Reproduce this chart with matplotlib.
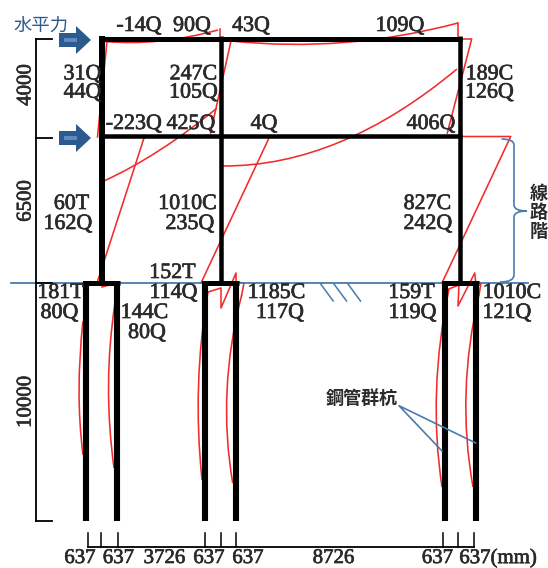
import matplotlib
matplotlib.use('Agg')
import matplotlib.pyplot as plt
import matplotlib.patheffects as pe
from matplotlib.path import Path
from matplotlib.patches import PathPatch, Polygon

SERIF = 'Liberation Serif'
JP = 'Noto Sans CJK JP'

BLUE = '#4a7aae'
RED = '#f22c2c'
INK = '#2b2b2b'

# frame, read in picture pixels
column_x = [101.5, 220.5, 460]
column_w = [6, 4.5, 4.5]
beam_y = [38.5, 136]
beam_w = [5, 4.5]
ground_y = 283
pile_bottom = 521
pile_pairs = [(86, 117), (205, 236), (445, 476)]

# dimension lines
level_y = [38.5, 137.5, 283, 521]
level_labels = ['4000', '6500', '10000']
level_label_y = [85, 201, 402]
span_ticks = [88, 101, 118, 205, 221, 236, 443, 458, 474]
span_labels = ['637', '637', '3726', '637', '637', '8726', '637', '637(mm)']
span_label_x = [80, 118.5, 164.5, 209, 248, 333.5, 437.5, 498]

# member force labels: text, x centre, y centre
force_labels = [
    ('-14Q', 139, 25), ('90Q', 192, 25), ('43Q', 251, 25), ('109Q', 400, 25),
    ('-223Q', 134, 123), ('425Q', 191, 123), ('4Q', 264, 123), ('406Q', 431, 123),
    ('60T', 71.5, 203), ('162Q', 68, 223), ('1010C', 187.5, 203), ('235Q', 190, 223),
    ('827C', 427.5, 203), ('242Q', 428, 223),
    ('152T', 172.5, 272), ('114Q', 173.5, 292),
    ('181T', 60.5, 292), ('80Q', 59.5, 312), ('144C', 144.5, 312), ('80Q', 147, 332),
    ('1185C', 276.5, 292), ('117Q', 280, 312),
    ('159T', 411.5, 292), ('119Q', 412.5, 312), ('1010C', 512, 292), ('121Q', 507, 312),
]
# upper storey pairs sit so tight they are set as one two-line text
stacked_labels = [('31Q\n44Q', 82.5, 82.5), ('247C\n105Q', 193.5, 82.5), ('189C\n126Q', 489.5, 82.5)]

# moment diagram, straight runs
moment_lines = [
    [(107, 41), (97.5, 137)],
    [(220.3, 29), (220.3, 36)],
    [(222.7, 41), (231, 41), (210.5, 133)],
    [(458, 23), (458, 36)],
    [(461, 39), (471.7, 39), (447.3, 133)],
    [(144, 138), (97, 283)],
    [(102, 287), (113, 284)],
    [(269, 138), (201, 283)],
    [(462, 136.5), (510.7, 136.5), (442, 283)],
    [(208, 292), (221, 288), (221, 308), (236, 273), (236, 282), (244, 283), (241.7, 295)],
    [(448.7, 289), (459, 285), (458, 306), (474.7, 273), (475.7, 282), (481, 283), (479, 295)],
]
# moment diagram, curved runs: start, a point half way, end
moment_curves = [
    [(105, 41.5), (160, 41), (218, 30)],
    [(231, 41), (345, 42.5), (458, 23)],
    [(104, 181), (160, 150), (217, 108)],
    [(223, 166), (340, 142), (457, 69)],
    [(83, 321), (79, 390), (83, 455)],
    [(115, 303), (108.5, 385), (114, 468)],
    [(208, 292), (198.5, 385), (202, 480)],
    [(241.7, 295), (227, 390), (232.7, 483)],
    [(449, 289), (436.5, 390), (442, 487)],
    [(479, 295), (466, 392), (473, 487)],
]


def through(p0, m, p2):
    # quadratic that passes through m at its middle
    ctrl = (2 * m[0] - (p0[0] + p2[0]) / 2, 2 * m[1] - (p0[1] + p2[1]) / 2)
    return Path([p0, ctrl, p2], [Path.MOVETO, Path.CURVE3, Path.CURVE3])


def arrow(ax, y):
    ax.add_patch(Polygon([(59, y - 7), (76, y - 7), (76, y - 14), (91, y), (76, y + 14),
                          (76, y + 7), (59, y + 7)], closed=True, fc='#2c5a8f', ec='none', zorder=5))
    ax.plot([64, 77], [y, y], color='#5f8cc0', lw=2.8, solid_capstyle='butt', zorder=6)


fig = plt.figure(figsize=(5.48, 5.68), dpi=100)
ax = fig.add_axes([0, 0, 1, 1])
ax.set_xlim(0, 548)
ax.set_ylim(568, 0)
ax.axis('off')

# moment lines go under the frame
for pts in moment_lines:
    ax.plot([p[0] for p in pts], [p[1] for p in pts], color=RED, lw=1.15, zorder=2)
for pts in moment_curves:
    ax.add_patch(PathPatch(through(*pts), fc='none', ec=RED, lw=1.15, zorder=2))

# frame
for x, w in zip(column_x, column_w):
    ax.plot([x, x], [beam_y[0] - 2.5, ground_y], color='k', lw=w * 0.72, solid_capstyle='butt', zorder=4)
for y, w in zip(beam_y, beam_w):
    ax.plot([column_x[0] - 3, column_x[2] + 2.2], [y, y], color='k', lw=w * 0.72, solid_capstyle='butt', zorder=4)
for a, b in pile_pairs:
    ax.plot([a - 3, b + 3], [ground_y, ground_y], color='k', lw=3.6, solid_capstyle='butt', zorder=4)
    ax.plot([a, a], [ground_y - 2.5, pile_bottom], color='k', lw=4.4, solid_capstyle='butt', zorder=4)
    ax.plot([b, b], [ground_y - 2.5, pile_bottom], color='k', lw=4.4, solid_capstyle='butt', zorder=4)

# ground, hatch marks, brace, leaders
ax.plot([11, 528], [ground_y, ground_y], color=BLUE, lw=1.3, zorder=3)
for x0 in (320.7, 334, 348):
    ax.plot([x0, x0 + 12.5], [284, 301], color=BLUE, lw=1.1, zorder=3)
brace = Path([(501.5, 139), (514, 139), (514, 145), (514, 205), (514, 211), (527, 211),
              (514, 211), (514, 217), (514, 275), (514, 282), (500, 282)],
             [Path.MOVETO, Path.CURVE3, Path.CURVE3, Path.LINETO, Path.CURVE3, Path.CURVE3,
              Path.CURVE3, Path.CURVE3, Path.LINETO, Path.CURVE3, Path.CURVE3])
ax.add_patch(PathPatch(brace, fc='none', ec=BLUE, lw=1.2, zorder=3))
ax.plot([442, 399, 475.7], [451, 405.7, 443], color=BLUE, lw=1.2, zorder=5)

# dimension lines
ax.plot([36, 36], [level_y[0], level_y[-1]], color='k', lw=1.3, zorder=3)
for y in level_y:
    ax.plot([36, 52], [y, y], color='k', lw=1.3, zorder=3)
ax.plot([span_ticks[0], span_ticks[-1]], [546.7, 546.7], color='k', lw=1.3)
for x in span_ticks:
    ax.plot([x, x], [533, 546.7], color='k', lw=1.1)

arrow(ax, 40)
arrow(ax, 138)

# the reference type is a bit heavier than Liberation Serif
heavy = [pe.withStroke(linewidth=0.5, foreground=INK)]
for s, x, y in force_labels:
    ax.text(x, y + 1.5, s, family=SERIF, fontsize=15.8, color=INK, ha='center', va='center',
            zorder=7, path_effects=heavy)
for s, x, y in stacked_labels:
    ax.text(x, y + 1.5, s, family=SERIF, fontsize=15.8, color=INK, ha='center', va='center',
            linespacing=0.95, zorder=7, path_effects=heavy)
for s, y in zip(level_labels, level_label_y):
    ax.text(26, y, s, family=SERIF, fontsize=15, color=INK, rotation=90, ha='center', va='center',
            path_effects=heavy)
for s, x in zip(span_labels, span_label_x):
    ax.text(x, 558.5, s, family=SERIF, fontsize=15, color=INK, ha='center', va='center',
            path_effects=heavy)

ax.text(41, 25.5, '水平力', family=JP, fontsize=13.2, color='#2f5a8c', ha='center', va='center')
ax.text(362, 398.5, '鋼管群杭', family=JP, fontsize=13, color=INK, weight='bold', ha='center', va='center')
for s, y in zip('線路階', [193.5, 213, 231.5]):
    ax.text(539, y, s, family=JP, fontsize=13, color=INK, weight='bold', ha='center', va='center')

plt.savefig('out.png', dpi=100)
plt.close()
